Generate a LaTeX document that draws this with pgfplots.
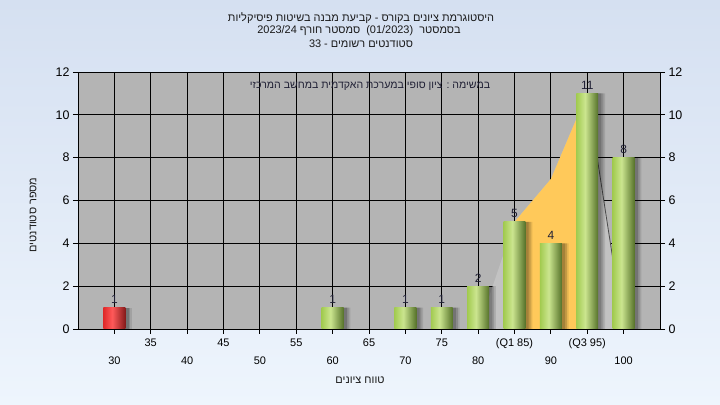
\documentclass[border=0pt]{standalone}
\usepackage{pgfplots}
\pgfplotsset{compat=1.18}
\usepackage{pgfplotstable}
\usepackage{fontspec}
\setmainfont{Liberation Sans}
\newfontfamily\heb[Script=Hebrew]{Liberation Sans}
\TeXXeTstate=1
\definecolor{bgtop}{HTML}{D5E0F1}
\definecolor{bgbot}{HTML}{EEF5FD}
\definecolor{plotbg}{HTML}{B4B4B4}
\definecolor{areagray}{HTML}{C2C2C2}
\definecolor{areayel}{HTML}{FFC95A}
\definecolor{gL}{HTML}{A2CB50}
\definecolor{gH}{HTML}{CBE58F}
\definecolor{gD}{HTML}{56722A}
\definecolor{rL}{HTML}{E02A2A}
\definecolor{rH}{HTML}{FF5A5A}
\definecolor{rD}{HTML}{851A1A}
\definecolor{lbl}{HTML}{202035}
\pgfdeclarehorizontalshading{greenbar}{100bp}{color(0bp)=(gL); color(25bp)=(gL); color(45bp)=(gH); color(75bp)=(gD); color(100bp)=(gD)}
\pgfdeclarehorizontalshading{redbar}{100bp}{color(0bp)=(rL); color(25bp)=(rL); color(45bp)=(rH); color(75bp)=(rD); color(100bp)=(rD)}

\pgfplotstableread{
x y
60 1
70 1
75 1
80 2
85 5
90 4
95 11
100 8
}\greendata
\pgfplotstableread{
x y
30 1
}\reddata
\pgfplotstableread{
x y
80 0
85 5
90 7
95 11
100 0
}\areadata
\pgfplotstableread{
x y
85 5
90 7
95 11
}\iqrdata
\pgfplotstableread{
x y
95 11
100 0
}\linedata

\pgfplotsset{
  barbase/.style={ybar, bar width=3, bar shift=0, draw=none, shade,
    nodes near coords, every node near coord/.append style={font=\fontsize{12}{14}\selectfont, text=lbl, yshift=0.5bp}},
  gbar/.style={barbase, shading=greenbar},
  rbar/.style={barbase, shading=redbar},
  shadow/.style={ybar, bar width=3, fill=black, draw=none},
}

\begin{document}
\begin{tikzpicture}
\shade[top color=bgtop, bottom color=bgbot] (0bp,0bp) rectangle (720bp,405bp);
\begin{axis}[
  at={(78bp,76bp)}, anchor=south west,
  scale only axis, width=582bp, height=257bp,
  xmin=25, xmax=105, ymin=0, ymax=12,
  axis background/.style={fill=plotbg},
  axis line style={black, line width=0.8bp},
  grid=major,
  major grid style={black, line width=0.8bp},
  tick align=outside, major tick length=5bp,
  tick style={black, line width=0.8bp},
  xtick pos=left, ytick pos=left,
  xtick={35,45,55,65,75,85,95},
  xticklabels={35,45,55,65,75,(Q1 85),(Q3 95)},
  extra x ticks={30,40,50,60,70,80,90,100},
  extra x tick labels={30,40,50,60,70,80,90,100},
  extra x tick style={tick label style={yshift=-18bp}},
  x tick label style={font=\fontsize{11}{13}\selectfont, yshift=-1bp},
  ytick={0,2,4,6,8,10,12},
  y tick label style={font=\fontsize{12.5}{14}\selectfont},
  /pgf/number format/assume math mode=true,
  clip=false,
]
\addplot[fill=areagray, draw=none] table[x=x,y=y]{\areadata} \closedcycle;
\addplot[fill=areayel, draw=none] table[x=x,y=y]{\iqrdata} \closedcycle;
\addplot[color=black!70, line width=0.8bp] table[x=x,y=y]{\linedata};
% soft shadows
\addplot[shadow, bar shift=0.45, opacity=0.16] table[x=x,y=y]{\greendata};
\addplot[shadow, bar shift=0.7, opacity=0.14] table[x=x,y=y]{\greendata};
\addplot[shadow, bar shift=0.95, opacity=0.10] table[x=x,y=y]{\greendata};
\addplot[shadow, bar shift=0.45, opacity=0.16] table[x=x,y=y]{\reddata};
\addplot[shadow, bar shift=0.7, opacity=0.14] table[x=x,y=y]{\reddata};
\addplot[shadow, bar shift=0.95, opacity=0.10] table[x=x,y=y]{\reddata};
% bars (one plot per bar so that each has its own cylinder shading)
\addplot[rbar] coordinates {(30,1)};
\addplot[gbar] coordinates {(60,1)};
\addplot[gbar] coordinates {(70,1)};
\addplot[gbar] coordinates {(75,1)};
\addplot[gbar] coordinates {(80,2)};
\addplot[gbar] coordinates {(85,5)};
\addplot[gbar] coordinates {(90,4)};
\addplot[gbar] coordinates {(95,11)};
\addplot[gbar] coordinates {(100,8)};
\end{axis}
\begin{axis}[
  at={(78bp,76bp)}, anchor=south west,
  scale only axis, width=582bp, height=257bp,
  xmin=25, xmax=105, ymin=0, ymax=12,
  axis x line=none, axis y line*=right,
  axis line style={black, line width=0.8bp},
  tick align=outside, major tick length=5bp,
  tick style={black, line width=0.8bp},
  ytick={0,2,4,6,8,10,12},
  y tick label style={font=\fontsize{12.5}{14}\selectfont},
  /pgf/number format/assume math mode=true,
]
\addplot[draw=none] coordinates {(25,0)};
\end{axis}
% titles
\node[font=\fontsize{11}{13}\selectfont\heb, text=black!90] at (361bp,387bp) {\beginR היסטוגרמת ציונים בקורס - קביעת מבנה בשיטות פיסיקליות\endR};
\node[font=\fontsize{11}{13}\selectfont\heb, text=black!90] at (359bp,374bp) {\beginR בסמסטר\ \ \beginL(01/2023)\endL\ \ סמסטר חורף \beginL 2023/24\endL\endR};
\node[font=\fontsize{11}{13}\selectfont\heb, text=black!90] at (361bp,361bp) {\beginR סטודנטים רשומים - \beginL 33\endL\endR};
\node[font=\fontsize{10.6}{13}\selectfont\heb, text=lbl] at (370bp,319bp) {\beginR במשימה : ציון סופי במערכת האקדמית במחשב המרכזי\endR};
\node[font=\fontsize{11}{13}\selectfont\heb, text=black!90, rotate=90] at (33bp,190bp) {\beginR מספר סטודנטים\endR};
\node[font=\fontsize{11}{13}\selectfont\heb, text=black!90] at (360bp,25bp) {\beginR טווח ציונים\endR};
\end{tikzpicture}
\end{document}
